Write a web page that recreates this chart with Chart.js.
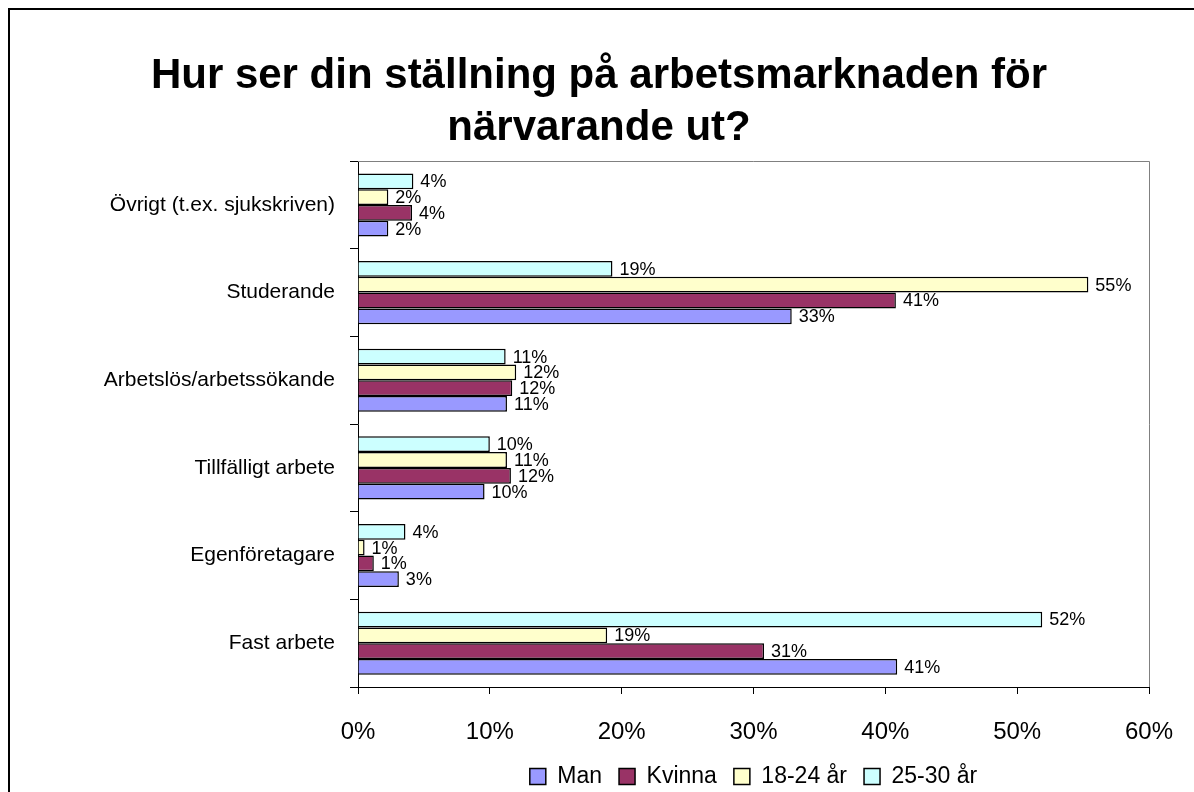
<!DOCTYPE html>
<html>
<head>
<meta charset="utf-8">
<script src="https://cdn.jsdelivr.net/npm/chart.js@4.4.1/dist/chart.umd.min.js"></script>
<style>
  html, body { margin: 0; padding: 0; background: #ffffff; }
  #wrap { width: 1194px; height: 792px; }
</style>
</head>
<body>
<div id="wrap"><canvas id="c" width="1194" height="792"></canvas></div>
<script>
// ---- Data (in percent) ----
const categories = ['Övrigt (t.ex. sjukskriven)', 'Studerande', 'Arbetslös/arbetssökande', 'Tillfälligt arbete', 'Egenföretagare', 'Fast arbete'];
const seriesNames = ['Man', 'Kvinna', '18-24 år', '25-30 år'];
const man      = [2.3, 32.9, 11.3,  9.6, 3.1, 40.9];
const kvinna   = [4.1, 40.8, 11.7, 11.6, 1.2, 30.8];
const age1824  = [2.3, 55.4, 12.0, 11.3, 0.5, 18.9];
const age2530  = [4.2, 19.3, 11.2, 10.0, 3.6, 51.9];
const xTickValues = [0, 10, 20, 30, 40, 50, 60];
const titleLines = ['Hur ser din ställning på arbetsmarknaden för', 'närvarande ut?'];

const FONT = "'Liberation Sans', Arial, Helvetica, sans-serif";

const bgPlugin = {
  id: 'bg',
  beforeDraw(chart) {
    const ctx = chart.ctx;
    ctx.save();
    ctx.fillStyle = '#ffffff';
    ctx.fillRect(0, 0, chart.width, chart.height);
    ctx.restore();
  },
  afterDraw(chart) {
    const ctx = chart.ctx;
    const a = chart.chartArea;
    ctx.save();
    // plot-area border (top and right)
    ctx.strokeStyle = '#808080';
    ctx.lineWidth = 1;
    ctx.beginPath();
    ctx.moveTo(a.left, Math.round(a.top) + 0.5);
    ctx.lineTo(Math.round(a.right) + 0.5, Math.round(a.top) + 0.5);
    ctx.lineTo(Math.round(a.right) + 0.5, a.bottom);
    ctx.stroke();
    // outer chart border
    ctx.strokeStyle = '#000000';
    ctx.lineWidth = 2;
    ctx.strokeRect(9, 9, chart.width + 20, chart.height + 20);
    ctx.restore();
  }
};

const labelPlugin = {
  id: 'barLabels',
  afterDatasetsDraw(chart) {
    const ctx = chart.ctx;
    ctx.save();
    ctx.font = '18px ' + FONT;
    ctx.fillStyle = '#000000';
    ctx.textAlign = 'left';
    ctx.textBaseline = 'middle';
    chart.data.datasets.forEach((ds, i) => {
      const meta = chart.getDatasetMeta(i);
      meta.data.forEach((bar, j) => {
        const v = ds.data[j];
        ctx.fillText(Math.round(v) + '%', bar.x + 7, bar.y + 1);
      });
    });
    ctx.restore();
  }
};

new Chart(document.getElementById('c'), {
  type: 'bar',
  data: {
    labels: categories,
    datasets: [
      { label: seriesNames[3], data: age2530, backgroundColor: '#CCFFFF', borderColor: '#000000', borderWidth: 1.5 },
      { label: seriesNames[2], data: age1824, backgroundColor: '#FFFFCC', borderColor: '#000000', borderWidth: 1.5 },
      { label: seriesNames[1], data: kvinna,  backgroundColor: '#993366', borderColor: '#000000', borderWidth: 1.5 },
      { label: seriesNames[0], data: man,     backgroundColor: '#9999FF', borderColor: '#000000', borderWidth: 1.5 }
    ]
  },
  options: {
    indexAxis: 'y',
    responsive: false,
    animation: false,
    barPercentage: 1.0,
    categoryPercentage: 0.72,
    layout: { padding: { left: 49, right: 45, top: 0, bottom: 0 } },
    scales: {
      x: {
        min: 0, max: 60,
        afterBuildTicks(s) { s.ticks = xTickValues.map(v => ({ value: v })); },
        afterFit(s) { s.height = 61; s.paddingLeft = 0; s.paddingRight = 0; },
        grid: { drawOnChartArea: false, color: '#000000', tickLength: 7 },
        border: { color: '#000000', width: 1 },
        ticks: {
          color: '#000000',
          font: { family: FONT, size: 24 },
          padding: 24,
          maxRotation: 0,
          callback: (v) => v + '%'
        }
      },
      y: {
        afterFit(s) { s.width = 309; },
        grid: { drawOnChartArea: false, color: '#000000', tickLength: 8, offset: true },
        border: { color: '#000000', width: 1 },
        ticks: {
          color: '#000000',
          font: { family: FONT, size: 21 },
          padding: 15
        }
      }
    },
    plugins: {
      title: {
        display: true,
        text: titleLines,
        color: '#000000',
        font: { family: FONT, size: 42, weight: 'bold', lineHeight: 1.24 },
        padding: { top: 50, bottom: 7 }
      },
      legend: {
        display: true,
        position: 'bottom',
        fullSize: false,
        reverse: true,
        maxHeight: 44,
        labels: {
          color: '#000000',
          font: { family: FONT, size: 23 },
          boxWidth: 16,
          boxHeight: 16,
          padding: 17
        }
      },
      tooltip: { enabled: false }
    }
  },
  plugins: [bgPlugin, labelPlugin]
});
</script>
</body>
</html>
